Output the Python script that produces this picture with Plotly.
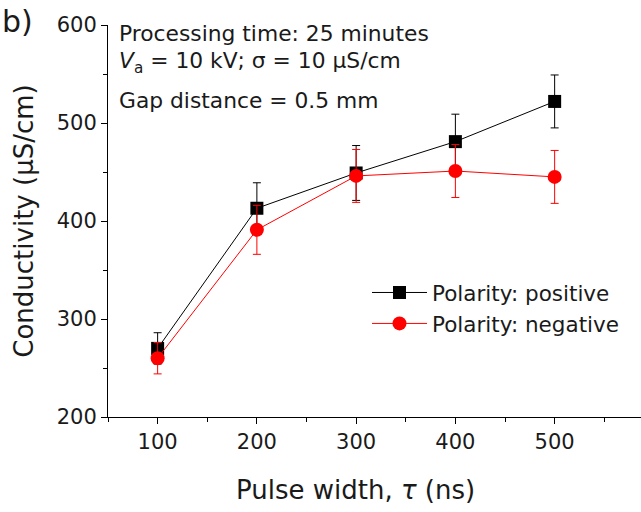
import plotly.graph_objects as go

pulse_width = [100, 200, 300, 400, 500]
pos_values = [270, 413, 449, 481, 522]
pos_err = [16, 26, 28, 28, 27]
neg_values = [260, 391, 446, 451, 445]
neg_err = [16, 25, 27, 27, 27]

FONT = "DejaVu Sans, sans-serif"
TXT = "#1a1a1a"

fig = go.Figure()
fig.add_trace(go.Scatter(
    x=pulse_width, y=pos_values, mode="lines+markers", name="Polarity: positive",
    line=dict(color="black", width=1),
    marker=dict(symbol="square", size=13, color="black"),
    error_y=dict(type="data", array=pos_err, color="black", thickness=1, width=4),
))
fig.add_trace(go.Scatter(
    x=pulse_width, y=neg_values, mode="lines+markers", name="Polarity: negative",
    line=dict(color="#ff0000", width=1),
    marker=dict(symbol="circle", size=14, color="#ff0000"),
    error_y=dict(type="data", array=neg_err, color="#ff0000", thickness=1, width=4),
))

axis_common = dict(
    showline=True, linecolor="black", linewidth=1, showgrid=False, zeroline=False,
    ticks="outside", ticklen=6, tickcolor="black",
    tickfont=dict(family=FONT, size=21, color=TXT),
    mirror=False,
)
fig.update_xaxes(
    range=[50, 587], tickvals=[100, 200, 300, 400, 500],
    minor=dict(ticks="outside", ticklen=4, dtick=50, tick0=50, tickcolor="black"),
    **axis_common,
)
fig.update_yaxes(
    range=[200, 600], tickvals=[200, 300, 400, 500, 600],
    minor=dict(ticks="outside", ticklen=4, dtick=50, tick0=200, tickcolor="black"),
    title=dict(text="Conductivity (μS/cm)", font=dict(family=FONT, size=26, color=TXT), standoff=15),
    **axis_common,
)

plot_w = 641 - 108
plot_h = 512 - 25 - 95

fig.update_layout(
    width=641, height=512,
    margin=dict(l=108, r=0, t=25, b=95),
    paper_bgcolor="white", plot_bgcolor="white",
    showlegend=True,
    legend=dict(
        x=(367 - 108) / plot_w, y=1 - (272 - 25) / plot_h, xanchor="left", yanchor="top",
        font=dict(family=FONT, size=21.5, color=TXT),
        bgcolor="rgba(0,0,0,0)", tracegroupgap=0, itemwidth=55,
    ),
)

# x-axis title as annotation (offset like the reference)
fig.add_annotation(text="Pulse width, <i>τ</i> (ns)", xref="paper", yref="paper",
                   x=(355 - 108) / plot_w, y=1 - (490 - 25) / plot_h,
                   xanchor="center", yanchor="middle", showarrow=False,
                   font=dict(family=FONT, size=26, color=TXT))

fig.add_annotation(text="b)", xref="paper", yref="paper",
                   x=-108 / plot_w, y=1 + 23 / plot_h, xanchor="left", yanchor="top",
                   showarrow=False, font=dict(family=FONT, size=30, color=TXT))
lines = [
    ("Processing time: 25 minutes", 33),
    ("<i>V</i><sub>a</sub> = 10 kV; σ = 10 μS/cm", 63),
    ("Gap distance = 0.5 mm", 100),
]
for txt, ypx in lines:
    fig.add_annotation(text=txt, xref="paper", yref="paper",
                       x=(117 - 108) / plot_w, y=1 - (ypx - 25) / plot_h,
                       xanchor="left", yanchor="middle", showarrow=False,
                       font=dict(family=FONT, size=21.8, color=TXT))

fig.write_html("out.html")
